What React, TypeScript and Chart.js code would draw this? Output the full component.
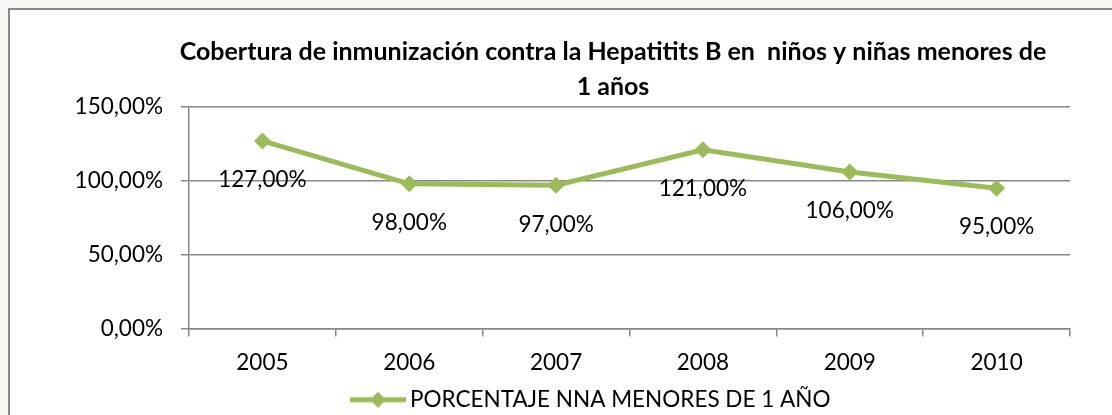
import React, { useEffect, useRef } from "react";
import { Chart, registerables } from "chart.js";

Chart.register(...registerables);

const categories = ["2005", "2006", "2007", "2008", "2009", "2010"];
const seriesLabel = "PORCENTAJE NNA MENORES DE 1 AÑO";
const coverage = [127, 98, 97, 121, 106, 95];
const yMin = 0;
const yMax = 150;
const yStep = 50;
const titleLines = [
  "Cobertura de inmunización contra la Hepatitits B en  niños y niñas menores de",
  "1 años",
];

const GREEN = "#9BBB59";
const GRID = "#878787";
const FONT = "Lato";
const TEXT_SIZE = 22.5;

const fmt = (v: number) => v.toFixed(2).replace(".", ",") + "%";

function makeLegendImage(): HTMLCanvasElement {
  const img = document.createElement("canvas");
  img.width = 56;
  img.height = 18;
  const c = img.getContext("2d")!;
  c.strokeStyle = GREEN;
  c.lineWidth = 5;
  c.beginPath();
  c.moveTo(0, 9);
  c.lineTo(56, 9);
  c.stroke();
  c.fillStyle = GREEN;
  c.beginPath();
  c.moveTo(28 - 8, 9);
  c.lineTo(28, 1);
  c.lineTo(28 + 8, 9);
  c.lineTo(28, 17);
  c.closePath();
  c.fill();
  return img;
}

const dataLabelPlugin = {
  id: "dataLabels",
  afterDatasetsDraw(chart: any) {
    const ctx = chart.ctx;
    const meta = chart.getDatasetMeta(0);
    const values = chart.data.datasets[0].data as number[];
    ctx.save();
    ctx.font = `${TEXT_SIZE}px ${FONT}`;
    ctx.fillStyle = "#000";
    ctx.textAlign = "center";
    ctx.textBaseline = "middle";
    meta.data.forEach((pt: any, i: number) => {
      ctx.fillText(fmt(values[i]), pt.x, pt.y + 39);
    });
    ctx.restore();
  },
};

// Legend sits left of centre in the original; move its box before drawing.
const legendShiftPlugin = {
  id: "legendShift",
  afterLayout(chart: any) {
    const lg = chart.legend;
    if (!lg) return;
    const targetLeft = 339.25;
    const d = targetLeft - lg.left;
    lg.left += d;
    lg.right += d;
  },
};

export default function App() {
  const ref = useRef<HTMLCanvasElement | null>(null);

  useEffect(() => {
    if (!ref.current) return;
    const legendImg = makeLegendImage();
    const chart = new Chart(ref.current, {
      type: "line",
      data: {
        labels: categories,
        datasets: [
          {
            label: seriesLabel,
            data: coverage,
            borderColor: GREEN,
            backgroundColor: GREEN,
            borderWidth: 5,
            tension: 0,
            pointStyle: "rectRot",
            pointRadius: 8.5,
            pointBorderWidth: 0,
            pointBackgroundColor: GREEN,
            pointBorderColor: GREEN,
            fill: false,
            yAxisID: "y",
          },
        ],
      },
      options: {
        responsive: false,
        maintainAspectRatio: false,
        animation: false,
        devicePixelRatio: 1,
        layout: { padding: { left: 40, right: 0, top: 0, bottom: 7 } },
        plugins: {
          title: {
            display: true,
            text: titleLines,
            color: "#000",
            font: { family: FONT, size: 25, weight: "bold", lineHeight: 35 / 25 },
            padding: { top: 26.5, bottom: 2.5 },
          },
          legend: {
            display: true,
            position: "bottom",
            align: "start",
            labels: {
              usePointStyle: true,
              pointStyle: legendImg as any,
              pointStyleWidth: 41.5,
              padding: 10,
              color: "#000",
              font: { family: FONT, size: TEXT_SIZE },
            },
          },
          tooltip: { enabled: false },
        },
        scales: {
          x: {
            type: "category",
            offset: true,
            grid: {
              display: true,
              drawOnChartArea: false,
              drawTicks: true,
              tickLength: 8,
              offset: true,
              color: GRID,
              lineWidth: 1.5,
            },
            border: { display: true, color: GRID, width: 1.5 },
            ticks: {
              color: "#000",
              padding: 13,
              font: { family: FONT, size: TEXT_SIZE, lineHeight: 1.2 },
              maxRotation: 0,
            },
            afterFit: (scale: any) => {
              scale.height = 50;
            },
          },
          y: {
            position: "left",
            min: yMin,
            max: yMax,
            ticks: {
              stepSize: yStep,
              color: "#000",
              padding: 18,
              font: { family: FONT, size: TEXT_SIZE },
              callback: (v: any) => fmt(Number(v)),
            },
            grid: {
              color: GRID,
              lineWidth: 1.5,
              tickLength: 8,
              drawTicks: true,
            },
            border: { display: true, color: GRID, width: 1.5 },
            afterFit: (scale: any) => {
              scale.width = 141;
            },
          },
          // empty right-hand gutter: the original chart's frame runs past the page
          gutter: {
            type: "linear",
            position: "right",
            display: true,
            grid: { display: false },
            border: { display: false },
            ticks: { display: false },
            afterFit: (scale: any) => {
              scale.width = 108;
            },
          },
        },
      },
      plugins: [dataLabelPlugin, legendShiftPlugin],
    });
    return () => chart.destroy();
  }, []);

  return (
    <div
      style={{
        position: "fixed",
        left: 0,
        top: 0,
        width: 1112,
        height: 415,
        overflow: "hidden",
        background: "#f7f5f2",
      }}
    >
      <div
        style={{
          position: "absolute",
          left: 8,
          top: 8,
          width: 1300,
          height: 500,
          boxSizing: "border-box",
          border: "2px solid #878787",
          background: "#fff",
        }}
      />
      <canvas
        ref={ref}
        width={1170}
        height={420}
        style={{ position: "absolute", left: 8, top: 8, display: "block" }}
      />
    </div>
  );
}
